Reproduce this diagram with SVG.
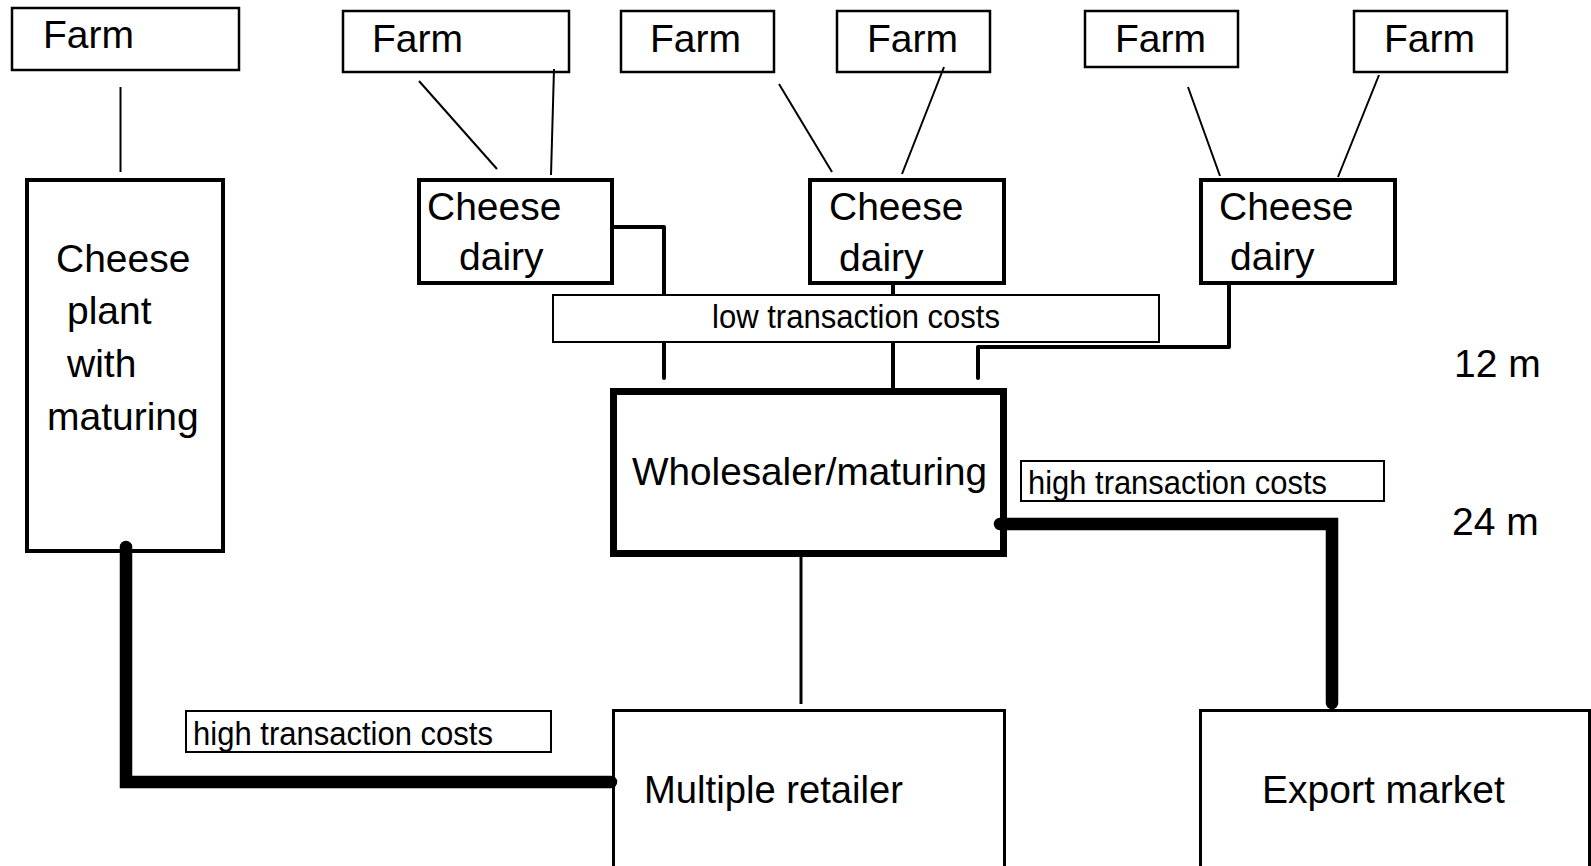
<svg xmlns="http://www.w3.org/2000/svg" width="1591" height="866" viewBox="0 0 1591 866">
<style>
text{font-family:"Liberation Sans",Arial,sans-serif;fill:#000}
.big{font-size:39px}
.small{font-size:33px}
.farm{fill:#fff;stroke:#000;stroke-width:2.5}
.dairy{fill:#fff;stroke:#000;stroke-width:4}
.lab{fill:#fff;stroke:#000;stroke-width:2}
.mkt{fill:#fff;stroke:#000;stroke-width:3}
.thin{fill:none;stroke:#000;stroke-width:2}
.mid{fill:none;stroke:#000;stroke-width:4;stroke-linecap:round;stroke-linejoin:round}
.thick{fill:none;stroke:#000;stroke-width:12.5;stroke-linecap:round;stroke-linejoin:miter}
</style>
<rect width="1591" height="866" fill="#fff"/>
<g id="farm1"><rect class="farm" x="12" y="8" width="227" height="62"/><text class="big" x="43" y="48">Farm</text></g>
<g id="farm2"><rect class="farm" x="343" y="11" width="226" height="61"/><text class="big" x="372" y="52">Farm</text></g>
<g id="farm3"><rect class="farm" x="621" y="11" width="153" height="61"/><text class="big" x="650" y="52">Farm</text></g>
<g id="farm4"><rect class="farm" x="837" y="11" width="153" height="61"/><text class="big" x="867" y="52">Farm</text></g>
<g id="farm5"><rect class="farm" x="1085" y="11" width="153" height="56"/><text class="big" x="1115" y="52">Farm</text></g>
<g id="farm6"><rect class="farm" x="1354" y="11" width="153" height="61"/><text class="big" x="1384" y="52">Farm</text></g>
<g id="cheese-plant"><rect class="dairy" x="27" y="180" width="196" height="371"/>
<text class="big" x="56" y="272">Cheese</text><text class="big" x="67" y="324">plant</text><text class="big" x="67" y="377">with</text><text class="big" x="47" y="430">maturing</text></g>
<g id="dairy1"><rect class="dairy" x="419" y="180" width="193" height="103"/><text class="big" x="427" y="220">Cheese</text><text class="big" x="459" y="270">dairy</text></g>
<g id="dairy2"><rect class="dairy" x="810" y="180" width="194" height="103"/><text class="big" x="829" y="220">Cheese</text><text class="big" x="839" y="271">dairy</text></g>
<g id="dairy3"><rect class="dairy" x="1201" y="180" width="194" height="103"/><text class="big" x="1219" y="220">Cheese</text><text class="big" x="1230" y="270">dairy</text></g>
<g id="low-tc"><rect class="lab" x="553" y="295" width="606" height="47"/><text class="small" x="712" y="328" textLength="288" lengthAdjust="spacingAndGlyphs">low transaction costs</text></g>
<g id="wholesaler"><rect fill="#fff" stroke="#000" stroke-width="7" x="613.5" y="391.5" width="390" height="162"/><text class="big" x="632" y="485" textLength="355" lengthAdjust="spacingAndGlyphs">Wholesaler/maturing</text></g>
<g id="high-tc-right"><rect class="lab" x="1021" y="461" width="363" height="40"/><text class="small" x="1028" y="494" textLength="299" lengthAdjust="spacingAndGlyphs">high transaction costs</text></g>
<g id="high-tc-left"><rect class="lab" x="186" y="711" width="365" height="41"/><text class="small" x="193" y="745" textLength="300" lengthAdjust="spacingAndGlyphs">high transaction costs</text></g>
<g id="retailer"><rect class="mkt" x="613.5" y="710.5" width="391" height="200"/><text class="big" x="644" y="803" textLength="259" lengthAdjust="spacingAndGlyphs">Multiple retailer</text></g>
<g id="export"><rect class="mkt" x="1200.5" y="710.5" width="389" height="200"/><text class="big" x="1262" y="803">Export market</text></g>
<g id="scale-12m"><text class="big" x="1454" y="377">12 m</text></g>
<g id="scale-24m"><text class="big" x="1452" y="535">24 m</text></g>
<g id="connectors">
<line class="thin" x1="120.5" y1="87" x2="120.5" y2="172"/>
<line class="thin" x1="419" y1="81" x2="497" y2="169"/>
<line class="thin" x1="554" y1="69" x2="551" y2="175"/>
<line class="thin" x1="779" y1="84" x2="832" y2="172"/>
<line class="thin" x1="944" y1="67" x2="902" y2="174"/>
<line class="thin" x1="1188" y1="87" x2="1220" y2="176"/>
<line class="thin" x1="1379" y1="75" x2="1338" y2="177"/>
<path class="mid" d="M614,227 H664 V294"/>
<path class="mid" d="M893,285 V294"/>
<path class="mid" d="M664,343 V378"/>
<path class="mid" d="M893,343 V388"/>
<path class="mid" d="M1229,285 V347 H978 V378"/>
<path fill="none" stroke="#000" stroke-width="3" d="M801,557 V704"/>
<path class="thick" d="M126,547 V782 H611"/>
<path class="thick" d="M1000,524 H1332 V703"/>
</g>
</svg>
